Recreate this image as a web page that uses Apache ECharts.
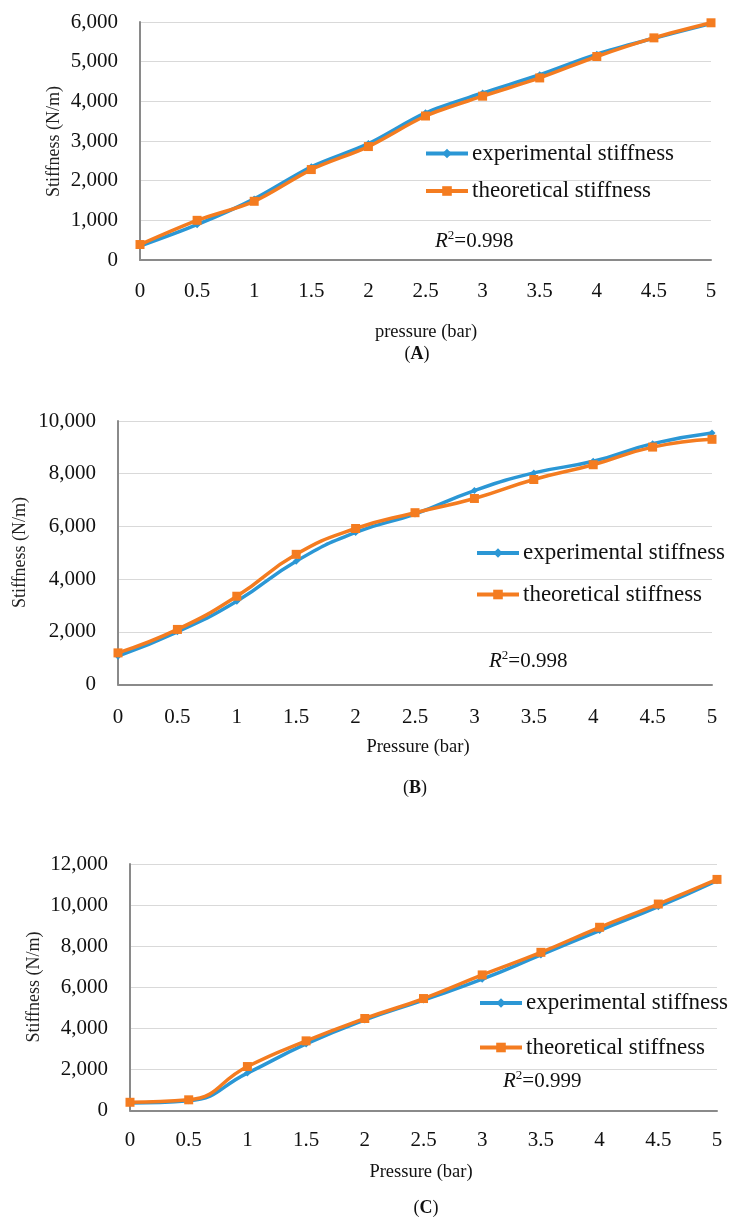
<!DOCTYPE html>
<html>
<head>
<meta charset="utf-8">
<script src="https://cdn.jsdelivr.net/npm/echarts@6/dist/echarts.min.js"></script>
<style>
  html, body { margin: 0; padding: 0; background: #fff; }
  #chart { width: 730px; height: 1217px; }
</style>
</head>
<body>
<div id="chart"></div>
<script>
// ---- data ----
const pressure = ['0', '0.5', '1', '1.5', '2', '2.5', '3', '3.5', '4', '4.5', '5'];
const seriesNames = ['experimental stiffness', 'theoretical stiffness'];

const expA  = [350, 890, 1540, 2350, 2935, 3710, 4210, 4670, 5190, 5590, 5960];
const theoA = [390, 1000, 1480, 2280, 2860, 3630, 4130, 4590, 5130, 5600, 5980];

const expB  = [1075, 2000, 3160, 4680, 5770, 6470, 7360, 8030, 8470, 9140, 9545];
const theoB = [1200, 2090, 3350, 4940, 5920, 6520, 7060, 7780, 8340, 9010, 9305];

const expC  = [360, 470, 1820, 3240, 4410, 5380, 6390, 7570, 8760, 9920, 11190];
const theoC = [400, 520, 2140, 3390, 4480, 5450, 6600, 7700, 8920, 10050, 11250];

const yMax = [6000, 10000, 12000];
const yInterval = [1000, 2000, 2000];
const xTitles = ['pressure (bar)', 'Pressure (bar)', 'Pressure (bar)'];
const panelLetters = ['A', 'B', 'C'];
const r2Texts = ['0.998', '0.998', '0.999'];
const yTitle = 'Stiffness (N/m)';

// ---- styling / layout ----
const SERIF = '"Liberation Serif", "Times New Roman", serif';
const BLUE = '#2b97d5';
const ORANGE = '#f47c20';
const grids = [
  { left: 140, top: 22, width: 571, height: 238 },
  { left: 118, top: 421, width: 594, height: 263.5 },
  { left: 130, top: 864, width: 587, height: 246.5 }
];
const labelMargins = [21, 22, 19];
const smoothness = [0.3, 0.5, 0.5];
const legendPos = [
  { left: 424, top: 141.5, gap: 13.5 },
  { left: 475, top: 541, gap: 17.5 },
  { left: 478, top: 991, gap: 20.5 }
];
const yTitlePos = [[54, 141.5], [20.5, 552.5], [34, 987]];
const xTitlePos = [[426, 332], [418, 747], [421, 1172]];
const captionPos = [[417, 354], [415, 788], [426, 1208]];
const r2Pos = [[435, 240], [489, 660], [503, 1080]];

const dataSets = [[expA, theoA], [expB, theoB], [expC, theoC]];

const xAxes = [], yAxes = [], series = [], legends = [], graphics = [];

grids.forEach((g, i) => {
  xAxes.push({
    type: 'category', gridIndex: i, data: pressure, boundaryGap: false,
    axisLine: { lineStyle: { color: '#8a8a8a', width: 2 } },
    axisTick: { show: false },
    axisLabel: { color: '#111', fontFamily: SERIF, fontSize: 21, margin: labelMargins[i] },
    splitLine: { show: false }
  });
  yAxes.push({
    type: 'value', gridIndex: i, min: 0, max: yMax[i], interval: yInterval[i],
    axisLine: { show: true, lineStyle: { color: '#8a8a8a', width: 2 } },
    axisTick: { show: false },
    axisLabel: {
      color: '#111', fontFamily: SERIF, fontSize: 21, margin: 22,
      formatter: v => v.toLocaleString('en-US')
    },
    splitLine: { lineStyle: { color: '#d9d9d9', width: 1.2 } }
  });
  const [exp, theo] = dataSets[i];
  series.push({
    name: seriesNames[0], type: 'line', xAxisIndex: i, yAxisIndex: i, data: exp,
    smooth: smoothness[i], symbol: 'diamond', symbolSize: 7,
    lineStyle: { color: BLUE, width: 3.5 }, itemStyle: { color: BLUE },
    z: 2
  });
  series.push({
    name: seriesNames[1], type: 'line', xAxisIndex: i, yAxisIndex: i, data: theo,
    smooth: smoothness[i], symbol: 'rect', symbolSize: 9,
    lineStyle: { color: ORANGE, width: 3.5 }, itemStyle: { color: ORANGE },
    z: 3
  });
  const lp = legendPos[i];
  legends.push({
    left: lp.left, top: lp.top, orient: 'vertical', itemGap: lp.gap,
    itemWidth: 42, itemHeight: 12, padding: 0,
    data: seriesNames, selectedMode: false,
    lineStyle: { width: 4 },
    textStyle: { fontFamily: SERIF, fontSize: 23, color: '#111', lineHeight: 24, padding: [0, 0, 0, -1] }
  });
  graphics.push({
    type: 'text', x: yTitlePos[i][0], y: yTitlePos[i][1], rotation: Math.PI / 2,
    style: { text: yTitle, font: '18px ' + SERIF, fill: '#222', align: 'center', verticalAlign: 'middle' }
  });
  graphics.push({
    type: 'text', x: xTitlePos[i][0], y: xTitlePos[i][1],
    style: { text: xTitles[i], font: '18.5px ' + SERIF, fill: '#111', align: 'center', verticalAlign: 'middle' }
  });
  graphics.push({
    type: 'text', x: captionPos[i][0], y: captionPos[i][1],
    style: {
      text: '{n|(}{b|' + panelLetters[i] + '}{n|)}', align: 'center', verticalAlign: 'middle',
      rich: {
        n: { fontFamily: SERIF, fontSize: 18, fill: '#111', color: '#111' },
        b: { fontFamily: SERIF, fontSize: 18, fontWeight: 'bold', fill: '#111', color: '#111' }
      }
    }
  });
  graphics.push({
    type: 'text', x: r2Pos[i][0], y: r2Pos[i][1],
    style: {
      text: '{i|R}{s|2}{n|=' + r2Texts[i] + '}', align: 'left', verticalAlign: 'middle',
      rich: {
        i: { fontFamily: SERIF, fontSize: 21, fontStyle: 'italic', color: '#111', fill: '#111', lineHeight: 24, verticalAlign: 'bottom' },
        s: { fontFamily: SERIF, fontSize: 13, color: '#111', fill: '#111', lineHeight: 24, verticalAlign: 'top', padding: [1, 0, 0, 0] },
        n: { fontFamily: SERIF, fontSize: 21, color: '#111', fill: '#111', lineHeight: 24, verticalAlign: 'bottom' }
      }
    }
  });
});

const chart = echarts.init(document.getElementById('chart'), null, { renderer: 'canvas' });
chart.setOption({
  animation: false,
  backgroundColor: '#fff',
  grid: grids,
  xAxis: xAxes,
  yAxis: yAxes,
  legend: legends,
  series: series,
  graphic: graphics
});
</script>
</body>
</html>
